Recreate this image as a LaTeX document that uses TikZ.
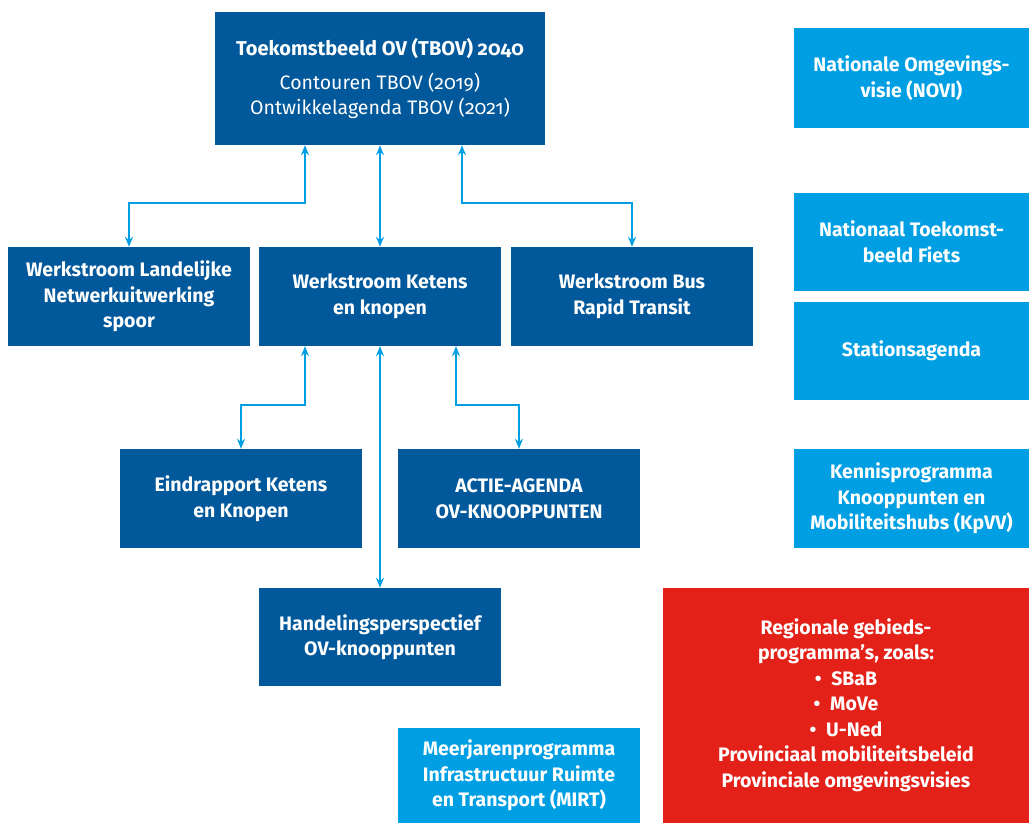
\documentclass[tikz,border=0pt]{standalone}
\usepackage{fontspec}
\setmainfont{Fira Sans}[RawFeature={+onum}]
\usetikzlibrary{arrows.meta}
\definecolor{rodonker}{HTML}{01589A}
\definecolor{rolicht}{HTML}{009FE3}
\definecolor{rorood}{HTML}{E32119}
\tikzset{
	blok/.style={fill=rodonker, text=white, font=\fontsize{19.5}{25.5}\selectfont\bfseries, align=center, inner sep=0pt, minimum width=242pt, minimum height=99pt},
	lichtblok/.style={blok, fill=rolicht, minimum width=235pt},
	pijl/.style={draw=rolicht, line width=1.5pt, >={Stealth[length=10pt,width=8pt]}, <->}
}
\begin{document}
\begin{tikzpicture}[x=1pt, y=-1pt]
		%%%%% START %%%%%
		\useasboundingbox (0, 0) rectangle (1029, 823);
		
		\node[blok, minimum width=330pt, minimum height=133pt] (tbov) at (380, 78.5) {{\fontsize{20}{25.5}\selectfont Toekomstbeeld OV (TBOV) 2040}\\[8pt]\mdseries Contouren TBOV (2019)\\\mdseries Ontwikkelagenda TBOV (2021)};
		
		\node[blok] (landelijk) at (129, 296.5) {Werkstroom Landelijke\\Netwerkuitwerking\\spoor};
		\node[blok] (ketens) at (380, 296.5) {Werkstroom Ketens\\en knopen};
		\node[blok] (brt) at (632, 296.5) {Werkstroom Bus\\Rapid Transit};
		
		\node[blok] (eind) at (241, 498.5) {Eindrapport Ketens\\en Knopen};
		\node[blok] (actie) at (519, 498.5) {ACTIE-AGENDA\\OV-KNOOPPUNTEN};
		\node[blok, minimum height=98pt] (handel) at (380, 637) {Handelingsperspectief\\OV-knooppunten};
		\node[blok, fill=rolicht, minimum height=95pt] (mirt) at (519, 775.5) {Meerjarenprogramma\\Infrastructuur Ruimte\\en Transport (MIRT)};
		
		\node[lichtblok, minimum height=100pt] (novi) at (911.5, 78) {Nationale Omgevings-\\visie (NOVI)};
		\node[lichtblok, minimum height=98pt] (fiets) at (911.5, 242) {Nationaal Toekomst-\\beeld Fiets};
		\node[lichtblok, minimum height=98pt] (station) at (911.5, 351) {Stationsagenda};
		\node[lichtblok] (kennis) at (911.5, 498.5) {Kennisprogramma\\Knooppunten en\\Mobiliteitshubs (KpVV)};
		
		\node[blok, fill=rorood, minimum width=366pt, minimum height=235pt] (regio) at (846, 705) {Regionale gebieds-\\programma’s, zoals:\\\textbullet\enspace SBaB\\\textbullet\enspace MoVe\\\textbullet\enspace U-Ned\\Provinciaal mobiliteitsbeleid\\Provinciale omgevingsvisies};
		
		\draw[pijl] ([xshift=-75pt]tbov.south) -- ++(0, 58) -| (landelijk.north);
		\draw[pijl] (tbov.south) -- (ketens.north);
		\draw[pijl] ([xshift=82pt]tbov.south) -- ++(0, 58) -| (brt.north);
		
		\draw[pijl] ([xshift=-75pt]ketens.south) -- ++(0, 59) -| (eind.north);
		\draw[pijl] (ketens.south) -- (handel.north);
		\draw[pijl] ([xshift=76pt]ketens.south) -- ++(0, 59) -| (actie.north);
		
		%%%%% END %%%%%
	\end{tikzpicture}
\end{document}
